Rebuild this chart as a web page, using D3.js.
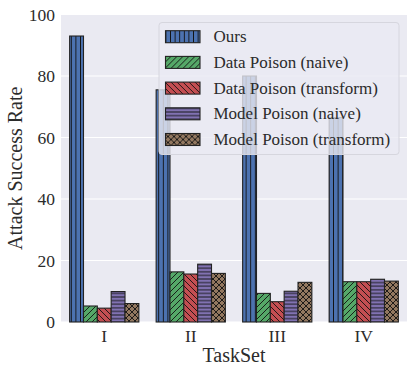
<!DOCTYPE html>
<html>
<head>
<meta charset="utf-8">
<script src="https://cdn.jsdelivr.net/npm/d3@7.9.0/dist/d3.min.js"></script>
<style>
  body { margin: 0; background: #fff; }
  svg { display: block; font-family: "Liberation Serif", "DejaVu Serif", serif; }
</style>
</head>
<body>
<div id="chart"></div>
<script>
// --- Data ---
const taskSets = ["I", "II", "III", "IV"];
const methods = [
  "Ours",
  "Data Poison (naive)",
  "Data Poison (transform)",
  "Model Poison (naive)",
  "Model Poison (transform)"
];
const ours = [93.0, 75.5, 80.0, 66.5];
const dataNaive = [5.2, 16.3, 9.3, 13.1];
const dataTransform = [4.5, 15.6, 6.6, 13.1];
const modelNaive = [9.9, 18.8, 10.0, 13.9];
const modelTransform = [6.0, 15.8, 12.9, 13.3];
const yTicks = [0, 20, 40, 60, 80, 100];

const series = [ours, dataNaive, dataTransform, modelNaive, modelTransform];
const colors = ["#4C72B0", "#55A868", "#C44E52", "#8172B2", "#937860"];
const hatchIds = ["h-vert", "h-fwd", "h-back", "h-horiz", "h-cross"];

// --- Layout ---
const W = 415, H = 374;
const M = { top: 14.5, right: 8, bottom: 52, left: 61 };
const TEXT = "#2b2b2b";

const svg = d3.select("#chart").append("svg").attr("width", W).attr("height", H);

// hatch patterns (drawn over each fill colour)
const defs = svg.append("defs");
function addPattern(id, color, size, draw) {
  const p = defs.append("pattern")
    .attr("id", id + "-" + color.slice(1))
    .attr("patternUnits", "userSpaceOnUse")
    .attr("width", size).attr("height", size);
  p.append("rect").attr("width", size).attr("height", size).attr("fill", color);
  draw(p, size);
  return "url(#" + id + "-" + color.slice(1) + ")";
}
const stroke = (sel) => sel.attr("stroke", "#111").attr("stroke-width", 0.9).attr("fill", "none");
const drawers = {
  "h-vert": (p, s) => stroke(p.append("path").attr("d", `M${s / 2},0V${s}`)),
  "h-horiz": (p, s) => stroke(p.append("path").attr("d", `M0,${s / 2}H${s}`)),
  "h-fwd": (p, s) => stroke(p.append("path").attr("d", `M0,${s}L${s},0M${-s / 2},${s / 2}L${s / 2},${-s / 2}M${s / 2},${s * 1.5}L${s * 1.5},${s / 2}`)),
  "h-back": (p, s) => stroke(p.append("path").attr("d", `M0,0L${s},${s}M${-s / 2},${s / 2}L${s / 2},${s * 1.5}M${s / 2},${-s / 2}L${s * 1.5},${s / 2}`)),
  "h-cross": (p, s) => stroke(p.append("path").attr("d", `M0,0L${s},${s}M0,${s}L${s},0`))
};
const hatchSize = { "h-vert": 4.6, "h-horiz": 3.6, "h-fwd": 6, "h-back": 6, "h-cross": 6 };
const fills = hatchIds.map((id, i) => addPattern(id, colors[i], hatchSize[id], drawers[id]));

const x = d3.scaleBand().domain(taskSets).range([M.left, W - M.right]).paddingInner(0.2).paddingOuter(0.1);
const xs = d3.scaleBand().domain(d3.range(methods.length)).range([0, x.bandwidth()]);
const y = d3.scaleLinear().domain([0, 100]).range([H - M.bottom, M.top]);

// background + grid
svg.append("rect")
  .attr("x", M.left).attr("y", M.top)
  .attr("width", W - M.right - M.left).attr("height", H - M.bottom - M.top)
  .attr("fill", "#EAEAF2");
svg.append("g")
  .selectAll("line")
  .data(yTicks)
  .join("line")
  .attr("x1", M.left).attr("x2", W - M.right)
  .attr("y1", (d) => y(d)).attr("y2", (d) => y(d))
  .attr("stroke", "#fff").attr("stroke-width", 1.1);

// bars
const groups = svg.append("g")
  .selectAll("g")
  .data(series)
  .join("g")
  .attr("fill", (d, i) => fills[i]);
groups.selectAll("rect")
  .data((d, i) => d.map((v, j) => ({ v, j, i })))
  .join("rect")
  .attr("x", (d) => x(taskSets[d.j]) + xs(d.i))
  .attr("y", (d) => y(d.v))
  .attr("width", xs.bandwidth())
  .attr("height", (d) => y(0) - y(d.v))
  .attr("stroke", "#222").attr("stroke-width", 1.1);

// axes
const yAxis = svg.append("g")
  .attr("transform", `translate(${M.left},0)`)
  .call(d3.axisLeft(y).tickValues(yTicks).tickSize(0).tickPadding(6));
const xAxis = svg.append("g")
  .attr("transform", `translate(0,${H - M.bottom})`)
  .call(d3.axisBottom(x).tickSize(0).tickPadding(8));
[yAxis, xAxis].forEach((a) => {
  a.select(".domain").remove();
  a.selectAll("text").attr("font-size", 17.5).attr("fill", TEXT).attr("font-family", "Liberation Serif, serif");
});

svg.append("text")
  .attr("transform", `translate(15,${(M.top + H - M.bottom) / 2}) rotate(-90)`)
  .attr("text-anchor", "middle").attr("dominant-baseline", "central")
  .attr("font-size", 20).attr("fill", TEXT)
  .text("Attack Success Rate");
svg.append("text")
  .attr("x", (M.left + W - M.right) / 2).attr("y", 355)
  .attr("text-anchor", "middle").attr("dominant-baseline", "central")
  .attr("font-size", 20).attr("fill", TEXT)
  .text("TaskSet");

// legend
const legend = svg.append("g").attr("transform", "translate(159,22.5)");
legend.append("rect")
  .attr("width", 240).attr("height", 132).attr("rx", 3)
  .attr("fill", "#EAEAF2").attr("fill-opacity", 0.8)
  .attr("stroke", "#d6d6de").attr("stroke-width", 1);
const items = legend.selectAll("g.item")
  .data(methods)
  .join("g")
  .attr("class", "item")
  .attr("transform", (d, i) => `translate(0,${14.2 + i * 25.7})`);
items.append("rect")
  .attr("x", 6.5).attr("y", -6).attr("width", 34.5).attr("height", 12)
  .attr("fill", (d, i) => fills[i])
  .attr("stroke", "#222").attr("stroke-width", 1.1);
items.append("text")
  .attr("x", 54.5).attr("dominant-baseline", "central")
  .attr("font-size", 17).attr("fill", TEXT)
  .text((d) => d);
</script>
</body>
</html>
